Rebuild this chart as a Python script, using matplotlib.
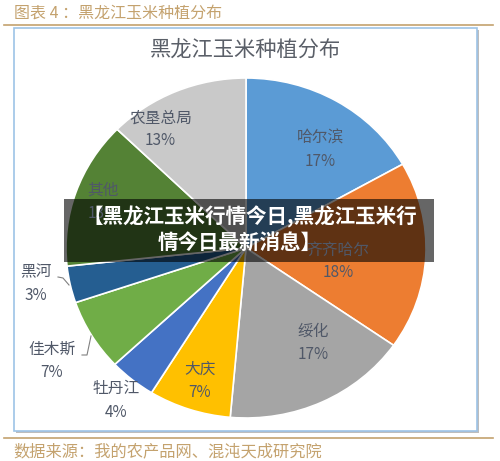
import matplotlib
matplotlib.use("Agg")
import matplotlib.pyplot as plt
from matplotlib.patches import Rectangle

plt.rcParams['font.family'] = ['Noto Sans CJK SC', 'DejaVu Sans']

categories = ['哈尔滨', '齐齐哈尔', '绥化', '大庆', '牡丹江', '佳木斯', '黑河', '其他', '农垦总局']
shares = [16.8, 17.9, 16.7, 7.4, 4.2, 6.8, 3.5, 14.0, 12.7]
printed = ['17%', '18%', '17%', '7%', '4%', '7%', '3%', '13%', '13%']
colors = ['#5B9BD5', '#ED7D31', '#A5A5A5', '#FFC000', '#4472C4', '#70AD47', '#255E91', '#548235', '#C9C9C9']
header = '图表 4 ：黑龙江玉米种植分布'
chart_title = '黑龙江玉米种植分布'
source = '数据来源：我的农产品网、混沌天成研究院'
banner = ['【黑龙江玉米行情今日,黑龙江玉米行', '情今日最新消息】']
name_xy = [(320, 138), (338, 250), (313, 331), (200, 369), (116, 388), (52, 349), (36, 272), (103, 190), (161, 118)]
pct_xy = [(320, 161), (338, 272), (313, 354), (200, 392), (116, 412), (52, 372), (36, 295), (103, 213), (160, 140)]

W, H = 500, 461
fig = plt.figure(figsize=(W / 100, H / 100), dpi=100, facecolor='white')
bg = fig.add_axes([0, 0, 1, 1])
bg.set_xlim(0, W)
bg.set_ylim(H, 0)
bg.axis('off')

gold = '#C4A26E'
bg.plot([4, 493], [25, 25], color=gold, lw=1.2)
bg.plot([4, 493], [438, 438], color=gold, lw=1.2)
bg.add_patch(Rectangle((16, 30), 463, 403, fc='#BDBDBD', ec='none'))
bg.add_patch(Rectangle((14, 28), 463, 403, fc='white', ec='#9DC3E6', lw=1.2))
bg.text(14, 13, header, fontsize=11.5, color=gold, va='center', ha='left')
bg.text(245, 49.5, chart_title, fontsize=15.3, color='#5A5F68', va='center', ha='center')
bg.text(13, 452, source, fontsize=11.7, color=gold, va='center', ha='left')

Rx, Ry, cx, cy = 180, 170, 246, 248
pie_ax = fig.add_axes([(cx - Rx) / W, 1 - (cy + Ry) / H, 2 * Rx / W, 2 * Ry / H])
pie_ax.pie(shares, colors=colors, startangle=90, counterclock=False, radius=1,
           wedgeprops={'edgecolor': 'white', 'linewidth': 1.2})
pie_ax.set_aspect('auto')
pie_ax.set_xlim(-1, 1)
pie_ax.set_ylim(-1, 1)

top = fig.add_axes([0, 0, 1, 1])
top.set_xlim(0, W)
top.set_ylim(H, 0)
top.axis('off')
top.patch.set_alpha(0)
ink = '#505868'
for name, pct, (nx, ny), (px, py) in zip(categories, printed, name_xy, pct_xy):
    top.text(nx, ny, name, fontsize=11.3, color=ink, va='center', ha='center')
    top.text(px, py, pct, fontsize=11, color=ink, va='center', ha='center')
top.plot([58, 63, 69], [277, 278, 285], color='#808080', lw=0.8)
top.plot([82, 87, 91], [355, 355, 336], color='#808080', lw=0.8)

top.add_patch(Rectangle((64, 199), 370, 63, fc='black', alpha=0.6, ec='none'))
top.text(250, 217, banner[0], fontsize=14.8, color='white', weight='bold', va='center', ha='center')
top.text(240, 242, banner[1], fontsize=14.8, color='white', weight='bold', va='center', ha='center')

fig.savefig('out.png', dpi=100)
